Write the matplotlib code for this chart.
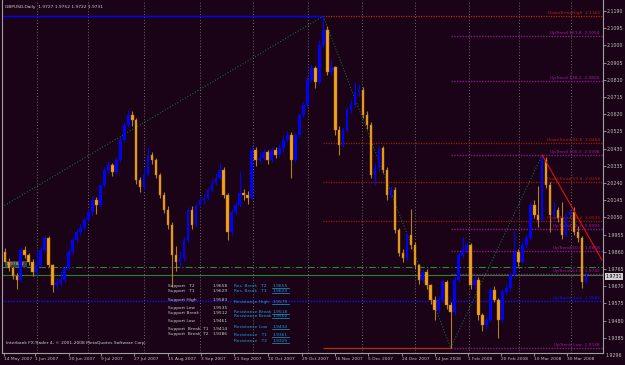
import matplotlib.pyplot as plt
import numpy as np

# daily GBPUSD candles (one candle here = roughly two trading days)
first_open = 1.9865
closes = [1.9810, 1.9777, 1.9733, 1.9711, 1.9876, 1.9848, 1.9810, 1.9755, 1.9793, 1.9876,
          1.9942, 1.9793, 1.9683, 1.9694, 1.9711, 1.9777, 1.9865, 1.9931, 1.9975, 1.9997,
          2.0041, 2.0085, 2.0151, 2.0123, 2.0233, 2.0316, 2.0343, 2.0305, 2.0371, 2.0481,
          2.0563, 2.0618, 2.0591, 2.0261, 2.0222, 2.0288, 2.0398, 2.0371, 2.0288, 2.0178,
          2.0096, 2.0013, 1.9848, 1.9810, 1.9832, 1.9931, 2.0096, 2.0013, 2.0123, 2.0151,
          2.0162, 2.0206, 2.0244, 2.0272, 2.0316, 2.0178, 1.9975, 2.0085, 2.0123, 2.0189,
          2.0178, 2.0162, 2.0426, 2.0371, 2.0382, 2.0415, 2.0371, 2.0426, 2.0398, 2.0437,
          2.0481, 2.0508, 2.0371, 2.0508, 2.0618, 2.0673, 2.0811, 2.0877, 2.0800, 2.1003,
          2.1086, 2.0855, 2.0880, 2.0536, 2.0453, 2.0536, 2.0646, 2.0673, 2.0745, 2.0756,
          2.0618, 2.0563, 2.0288, 2.0327, 2.0437, 2.0316, 2.0178, 2.0206, 1.9986, 1.9859,
          1.9832, 1.9958, 1.9903, 1.9793, 1.9711, 1.9755, 1.9683, 1.9601, 1.9546, 1.9601,
          1.9700, 1.9573, 1.9535, 1.9711, 1.9848, 1.9876, 1.9903, 1.9683, 1.9711, 1.9518,
          1.9463, 1.9491, 1.9656, 1.9601, 1.9491, 1.9645, 1.9667, 1.9738, 1.9865, 1.9810,
          1.9903, 1.9942, 2.0123, 2.0068, 2.0040, 2.0371, 2.0233, 2.0068, 2.0096, 2.0052,
          1.9958, 2.0068, 2.0085, 1.9975, 1.9942, 1.9700, 1.9731]
highs = [1.9885, 1.9830, 1.9790, 1.9750, 1.9890, 1.9900, 1.9860, 1.9825, 1.9870, 1.9890,
         1.9960, 1.9955, 1.9800, 1.9720, 1.9760, 1.9790, 1.9880, 1.9945, 1.9990, 2.0020,
         2.0055, 2.0100, 2.0175, 2.0165, 2.0245, 2.0330, 2.0365, 2.0355, 2.0385, 2.0495,
         2.0580, 2.0646, 2.0640, 2.0600, 2.0275, 2.0330, 2.0440, 2.0415, 2.0380, 2.0300,
         2.0195, 2.0120, 2.0030, 1.9900, 1.9870, 1.9945, 2.0110, 2.0120, 2.0135, 2.0170,
         2.0185, 2.0220, 2.0260, 2.0300, 2.0354, 2.0330, 2.0190, 2.0100, 2.0140, 2.0310,
         2.0210, 2.0200, 2.0445, 2.0440, 2.0410, 2.0435, 2.0425, 2.0440, 2.0440, 2.0460,
         2.0500, 2.0530, 2.0525, 2.0520, 2.0630, 2.0690, 2.0830, 2.0900, 2.0890, 2.1030,
         2.1162, 2.1110, 2.0925, 2.0890, 2.0560, 2.0550, 2.0660, 2.0700, 2.0800, 2.0790,
         2.0770, 2.0640, 2.0580, 2.0350, 2.0445, 2.0450, 2.0330, 2.0230, 2.0220, 1.9995,
         1.9880, 1.9975, 2.0100, 1.9920, 1.9800, 1.9770, 1.9770, 1.9690, 1.9620, 1.9620,
         1.9715, 1.9710, 1.9590, 1.9725, 1.9860, 1.9947, 1.9925, 1.9915, 1.9740, 1.9725,
         1.9530, 1.9510, 1.9670, 1.9680, 1.9610, 1.9660, 1.9690, 1.9750, 1.9980, 1.9880,
         1.9920, 1.9960, 2.0140, 2.0150, 2.0225, 2.0398, 2.0385, 2.0250, 2.0140, 2.0110,
         2.0140, 2.0080, 2.0100, 2.0110, 2.0010, 1.9955, 1.9752]
lows = [1.9795, 1.9760, 1.9715, 1.9660, 1.9700, 1.9830, 1.9795, 1.9735, 1.9740, 1.9780,
        1.9865, 1.9780, 1.9645, 1.9660, 1.9680, 1.9700, 1.9770, 1.9855, 1.9920, 1.9960,
        1.9985, 2.0030, 2.0070, 2.0075, 2.0110, 2.0220, 2.0300, 2.0285, 2.0295, 2.0360,
        2.0470, 2.0550, 2.0560, 2.0240, 2.0195, 2.0205, 2.0280, 2.0350, 2.0270, 2.0160,
        2.0080, 1.9990, 1.9670, 1.9760, 1.9780, 1.9815, 1.9920, 1.9990, 2.0000, 2.0110,
        2.0130, 2.0150, 2.0195, 2.0235, 2.0260, 2.0160, 1.9930, 1.9960, 2.0070, 2.0110,
        2.0150, 2.0130, 2.0150, 2.0340, 2.0355, 2.0370, 2.0350, 2.0360, 2.0380, 2.0385,
        2.0420, 2.0470, 2.0270, 2.0360, 2.0495, 2.0605, 2.0660, 2.0800, 2.0767, 2.0790,
        2.0990, 2.0840, 2.0840, 2.0510, 2.0400, 2.0440, 2.0525, 2.0630, 2.0660, 2.0720,
        2.0600, 2.0540, 2.0270, 2.0235, 2.0310, 2.0300, 2.0150, 2.0160, 1.9970, 1.9840,
        1.9810, 1.9820, 1.9880, 1.9770, 1.9690, 1.9700, 1.9660, 1.9580, 1.9490, 1.9530,
        1.9590, 1.9550, 1.9338, 1.9520, 1.9700, 1.9830, 1.9860, 1.9660, 1.9660, 1.9490,
        1.9430, 1.9440, 1.9480, 1.9590, 1.9390, 1.9480, 1.9630, 1.9650, 1.9725, 1.9790,
        1.9800, 1.9890, 1.9930, 2.0050, 2.0000, 2.0030, 2.0215, 1.9975, 2.0040, 2.0030,
        1.9935, 1.9945, 2.0050, 1.9960, 1.9920, 1.9668, 1.9690]

date_labels = ['14 May 2007', '1 Jun 2007', '20 Jun 2007', '9 Jul 2007', '27 Jul 2007',
               '15 Aug 2007', '3 Sep 2007', '21 Sep 2007', '10 Oct 2007', '29 Oct 2007',
               '16 Nov 2007', '5 Dec 2007', '24 Dec 2007', '14 Jan 2008', '1 Feb 2008',
               '20 Feb 2008', '10 Mar 2008', '30 Mar 2008']
date_bars = [-0.25, 7.5, 16, 24.25, 32.5, 41, 49.25, 57.5, 66, 74.75,
             83, 91.25, 99.75, 108, 116.25, 124.75, 133, 141.25]
month_bars = [8, 21, 35, 49, 62.25, 76.25, 89.75, 103, 116.5, 129.25, 142.25]

price_labels = ['2.1190', '2.1095', '2.1000', '2.0905', '2.0810', '2.0715', '2.0620',
                '2.0525', '2.0430', '2.0335', '2.0240', '2.0145', '2.0050', '1.9955',
                '1.9860', '1.9765', '1.9670', '1.9575', '1.9480', '1.9385']
price_ticks = [2.1190 - 0.00946 * k for k in range(len(price_labels))]

# key swing points
top_hi, jan_lo, mar_hi = 2.1162, 1.9338, 2.0398
# fib retracement of the down move (red) and of the up move (purple)
down_levels = [(2.0464, 'DownTrend 61.8'), (2.0250, 'DownTrend 50.0'), (2.0035, 'DownTrend 38.2')]
up_levels = [(2.1054, 'UpTrend 161.8'), (2.0805, 'UpTrend 138.2'), (2.0398, 'UpTrend 100.0'),
             (1.9993, 'UpTrend 38.2'), (1.9868, 'UpTrend 50.0'), (1.9742, 'UpTrend 61.8'),
             (1.9338, 'UpTrend Low')]

support = [('Support   T2', '1.9658'), ('Support   T1', '1.9629'), ('Support High', '1.9583'),
           ('Support Low', '1.9535'), ('Support Break', '1.9512'), ('Support Low', '1.9461'),
           ('Support  Break  T1', '1.9414'), ('Support  Break  T2', '1.9386')]
resist = [('Res. Break   T2', '1.9655'), ('Res. Break   T1', '1.9623'), ('Resistance High', '1.9579'),
          ('Resistance Break', '1.9518'), ('Resistance Break', '1.9502'), ('Resistance Low', '1.9434'),
          ('Resistance   T1', '1.9361'), ('Resistance   T2', '1.9329')]
sup_y = [1.9677, 1.9650, 1.9600, 1.9557, 1.9529, 1.9485, 1.9441, 1.9414]
res_y = [1.9677, 1.9650, 1.9590, 1.9535, 1.9513, 1.9452, 1.9408, 1.9375]

bg = '#1a0316'
fig = plt.figure(figsize=(6.25, 3.65), dpi=100, facecolor=bg)
ax = fig.add_axes([0.003, 12 / 365, 601 / 625, 353 / 365], facecolor=bg)
ax.set_xlim(-0.75, 150.25)
ax.set_ylim(1.9309, 2.12505)

n = len(closes)
x = np.arange(n)
c = np.array(closes)
o = np.r_[first_open, c[:-1]]
h = np.array(highs)
l = np.array(lows)
up = c >= o

for xi in month_bars:
    ax.axvline(xi, color='#8a8a8a', lw=0.6, ls=(0, (1, 2.5)), zorder=1)

# candles
ax.vlines(x[up], l[up], h[up], color='#0000ff', lw=0.8, zorder=3)
ax.vlines(x[~up], l[~up], h[~up], color='#b08020', lw=0.8, zorder=3)
body = np.maximum(np.abs(c - o), 0.0004)
ax.bar(x[up], body[up], bottom=np.minimum(o, c)[up], width=0.65, color='#0000ff', zorder=4)
ax.bar(x[~up], body[~up], bottom=np.minimum(o, c)[~up], width=0.65, color='#f5a21a',
       edgecolor='#b07a18', lw=0.3, zorder=4)

# horizontal levels
xr = 150.25
ax.hlines(top_hi, -0.75, 80, color='#0000ff', lw=1.0, zorder=2)
ax.hlines(top_hi, 80, xr, color='#c02010', lw=0.9, ls=(0, (1, 1)), zorder=2)
ax.text(149.5, top_hi + 0.0006, 'DownTrendHigh  2.1161', color='#c02010', fontsize=3.2,
        ha='right', va='bottom')
for lv, name in down_levels:
    ax.hlines(lv, 80, xr, color='#a01808', lw=0.9, ls=(0, (1, 1)), zorder=2)
    ax.text(149.5, lv + 0.0006, f'{name}  {lv:.4f}', color='#b02010', fontsize=3.2,
            ha='right', va='bottom')
ax.hlines(1.9782, -0.75, xr, color='#2a8a3a', lw=0.8, ls=(0, (6, 2, 1, 2)), zorder=2)
ax.hlines(1.9738, -0.75, xr, color='#1f8a1f', lw=0.8, zorder=2)
ax.hlines(1.9595, -0.75, xr, color='#1010ff', lw=1.0, ls=(0, (1, 1)), zorder=2)
ax.text(149.5, 1.9601, 'UpTrend  Low  1.9585', color='#1010ff', fontsize=3.2, ha='right', va='bottom')
ax.hlines(jan_lo, 80, 112, color='#b03010', lw=0.9, zorder=2)
for lv, name in up_levels:
    ax.hlines(lv, 112, xr, color='#8a1a8a', lw=1.0, ls=(0, (1, 1)), zorder=2)
    ax.text(149.5, lv + 0.0006, f'{name}  {lv:.4f}', color='#9a209a', fontsize=3.2,
            ha='right', va='bottom')

# trend lines
ax.plot([-0.75, 80], [2.0112, top_hi], color='#1a7a4a', lw=0.7, ls=(0, (1, 2)), zorder=2)
ax.plot([80, 112], [top_hi, jan_lo], color='#1a7a4a', lw=0.7, ls=(0, (1, 2)), zorder=2)
ax.plot([112, 135], [jan_lo, mar_hi], color='#1a7a4a', lw=0.7, ls=(0, (1, 2)), zorder=2)
ax.plot([135, 150], [mar_hi, 1.9821], color='#e01010', lw=0.8, zorder=5)

# support / resistance block
for (name, val), yv in zip(support, sup_y):
    ax.text(41, yv, name, color='#c8c8c8', fontsize=3.2, va='center')
    ax.text(52.2, yv, val, color='#c8c8c8', fontsize=3.2, va='center')
for (name, val), yv in zip(resist, res_y):
    ax.text(57.5, yv, name, color='#1e9ad8', fontsize=3.2, va='center')
    ax.text(67.2, yv, val, color='#1e9ad8', fontsize=3.2, va='center')
    ax.plot([67, 71.5], [yv - 0.0013, yv - 0.0013], color='#1e9ad8', lw=0.5)

ax.text(0.2, 1.9800, '1.97842  ', color='#bbbbbb', fontsize=3.2, va='center',
        bbox=dict(boxstyle='square,pad=0.2', fc='#404040', ec='none'))
ax.text(0.2, 1.9364, 'Interbank FX-Trader 4, \u00a9 2001-2008 MetaQuotes Software Corp.',
        color='#d0d0d0', fontsize=3.2, va='center')
ax.text(0.005, 0.985, 'GBPUSD,Daily  1.9727 1.9752 1.9722 1.9731', transform=ax.transAxes,
        color='#d0d0d0', fontsize=3.2, va='top')

# axes look
for s in ['left', 'right', 'bottom']:
    ax.spines[s].set_color('#a0a0a0')
    ax.spines[s].set_linewidth(0.8)
ax.spines['top'].set_visible(False)
ax.yaxis.tick_right()
ax.set_yticks(price_ticks)
ax.set_yticklabels(price_labels)
ax.tick_params(axis='y', colors='#c0c0c0', labelsize=3.4, length=2, width=0.5, pad=1)
ax.text(1.004, -0.006, '1.9296', transform=ax.transAxes, color='#c0c0c0', fontsize=3.4,
        va='center', clip_on=False)
ax.set_xticks(date_bars)
ax.set_xticklabels(date_labels, ha='left')
ax.tick_params(axis='x', colors='#c0c0c0', labelsize=3.2, length=2, width=0.5, pad=1)
ax.annotate('1.9731', xy=(1.0, 1.9731), xycoords=('axes fraction', 'data'),
            xytext=(2, 0), textcoords='offset points', color='#000000', fontsize=3.4,
            va='center', bbox=dict(boxstyle='square,pad=0.2', fc='#d0d0d0', ec='none'))

fig.savefig('out.png', dpi=100, facecolor=bg)
